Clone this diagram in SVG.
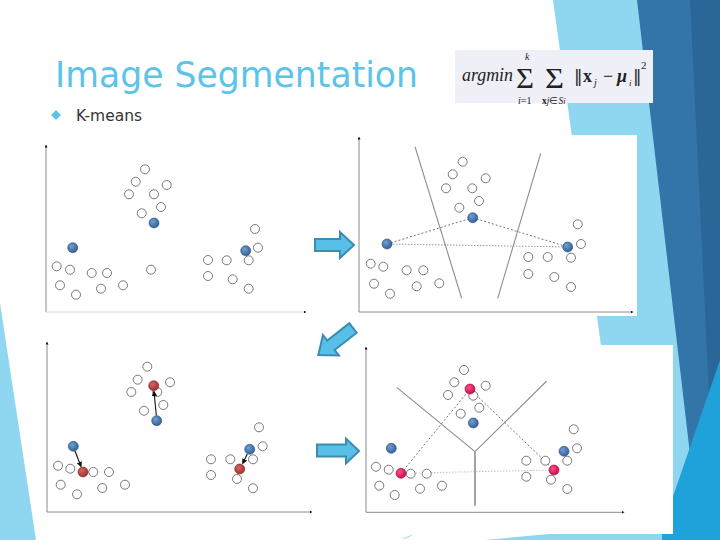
<svg xmlns="http://www.w3.org/2000/svg" width="720" height="540" viewBox="0 0 720 540">
<defs>
<radialGradient id="gb" cx="0.38" cy="0.35" r="0.7"><stop offset="0" stop-color="#6f9fd3"/><stop offset="1" stop-color="#2f5d93"/></radialGradient>
<radialGradient id="gr" cx="0.38" cy="0.35" r="0.7"><stop offset="0" stop-color="#d8645e"/><stop offset="1" stop-color="#9a2f2c"/></radialGradient>
<radialGradient id="gm" cx="0.38" cy="0.35" r="0.7"><stop offset="0" stop-color="#ff4f86"/><stop offset="1" stop-color="#c8084a"/></radialGradient>
<marker id="ah" viewBox="0 0 6 6" refX="5" refY="3" markerWidth="5" markerHeight="5" orient="auto"><path d="M0,0 L6,3 L0,6 z" fill="#111"/></marker>
<marker id="ax" viewBox="0 0 4 4" refX="2" refY="2" markerWidth="3" markerHeight="3" orient="auto"><path d="M0,0 L4,2 L0,4 z" fill="#111"/></marker>
</defs>
<style>
.o{fill:#fff;stroke:#6a6a6a;stroke-width:0.9}
.b{fill:url(#gb);stroke:#2a4f7e;stroke-width:0.6}
.r{fill:url(#gr);stroke:#7a2522;stroke-width:0.6}
.m{fill:url(#gm);stroke:#9c0638;stroke-width:0.6}
.axis{stroke:#8a8a8a;stroke-width:1;fill:none;marker-end:url(#ax)}
.vor{stroke:#8c8c8c;stroke-width:1.1;fill:none}
.dash{stroke:#777;stroke-width:1;stroke-dasharray:2 2;fill:none}
.dot{stroke:#999;stroke-width:1;stroke-dasharray:1.5 1.5;fill:none}
.mv{stroke:#111;stroke-width:1.1;fill:none;marker-end:url(#ah)}
.blk{fill:#58c0e8;stroke:#3a8db1;stroke-width:2;stroke-linejoin:miter}
.t{font-family:"Liberation Serif",serif;fill:#222}
.n{font-family:"DejaVu Serif",serif;fill:#222}
</style>

<g id="background">
<rect x="0" y="0" width="720" height="540" fill="#fff"/>
<polygon points="0,303 36,540 0,540" fill="#8fd6f1"/>
<polygon points="553,0 720,0 720,540 628,540" fill="#8fd6f1"/>
<polygon points="637,0 720,0 720,540 700,540" fill="#3475a9"/>
<polygon points="690,0 720,0 720,540 716,540" fill="#2b6699"/>
<polygon points="720,360 720,540 658,540" fill="#1fa1da"/>
<polygon points="485,540 560,533 662,533 662,540" fill="#8fd6f1"/>
<line x1="403" y1="539" x2="412" y2="535" stroke="#9fd8ee" stroke-width="1"/>
</g>

<g id="title">
<text x="55" y="87" font-family="'DejaVu Sans',sans-serif" font-size="36" fill="#5cc3e9" textLength="363" lengthAdjust="spacingAndGlyphs">Image Segmentation</text>
<polygon points="56,110 61,115 56,120 51,115" fill="#5cc3e9"/>
<text x="76" y="121" font-family="'DejaVu Sans',sans-serif" font-size="16" fill="#333" textLength="66" lengthAdjust="spacingAndGlyphs">K-means</text>
</g>

<g id="formula">
<rect x="455" y="50" width="198" height="53" fill="#eff0f7"/>
<text class="t" x="462" y="81" font-size="18" font-style="italic" textLength="51" lengthAdjust="spacingAndGlyphs">argmin</text>
<text class="t" x="516" y="88" font-size="30" textLength="18" lengthAdjust="spacingAndGlyphs">Σ</text>
<text class="t" x="525" y="59.5" font-size="10" font-style="italic">k</text>
<text class="t" x="518" y="104" font-size="10"><tspan font-style="italic">i</tspan>=1</text>
<text class="t" x="545" y="88" font-size="30" textLength="19" lengthAdjust="spacingAndGlyphs">Σ</text>
<text class="t" x="542" y="104" font-size="9.5"><tspan font-weight="bold">x</tspan><tspan font-style="italic">j</tspan>∈<tspan font-style="italic">S</tspan><tspan font-style="italic" font-size="8">i</tspan></text>
<text class="n" x="574" y="82" font-size="17">‖</text>
<text class="t" x="583" y="82" font-size="18" font-weight="bold">x</text>
<text class="t" x="594" y="86" font-size="10" font-style="italic">j</text>
<text class="t" x="603" y="82" font-size="18">−</text>
<text class="t" x="617" y="82" font-size="18" font-weight="bold" font-style="italic">μ</text>
<text class="t" x="629" y="86" font-size="9" font-style="italic">i</text>
<text class="n" x="633" y="82" font-size="17">‖</text>
<text class="t" x="641" y="69" font-size="11">2</text>
</g>

<g id="panel-initial">
<line class="axis" x1="46" y1="312" x2="46" y2="146"/>
<line class="axis" x1="46" y1="312" x2="305" y2="312" style="stroke:#d8d8d8"/>
<circle class="o" cx="145" cy="169.3" r="4.5"/><circle class="o" cx="135.7" cy="181.7" r="4.5"/>
<circle class="o" cx="166.7" cy="185" r="4.5"/><circle class="o" cx="129" cy="194.3" r="4.5"/>
<circle class="o" cx="154" cy="194.3" r="4.5"/><circle class="o" cx="161" cy="207" r="4.5"/>
<circle class="o" cx="141.7" cy="213.3" r="4.5"/><circle class="o" cx="255" cy="229" r="4.5"/>
<circle class="o" cx="258" cy="247.7" r="4.5"/><circle class="o" cx="56.7" cy="266.3" r="4.5"/>
<circle class="o" cx="70" cy="269.7" r="4.5"/><circle class="o" cx="91.7" cy="273" r="4.5"/>
<circle class="o" cx="107" cy="273" r="4.5"/><circle class="o" cx="151" cy="269.7" r="4.5"/>
<circle class="o" cx="208" cy="260" r="4.5"/><circle class="o" cx="226.7" cy="260.3" r="4.5"/>
<circle class="o" cx="248.7" cy="260.3" r="4.5"/><circle class="o" cx="208" cy="276" r="4.5"/>
<circle class="o" cx="232.7" cy="279.3" r="4.5"/><circle class="o" cx="248.7" cy="288.7" r="4.5"/>
<circle class="o" cx="60" cy="285.3" r="4.5"/><circle class="o" cx="76" cy="294.7" r="4.5"/>
<circle class="o" cx="101" cy="288.7" r="4.5"/><circle class="o" cx="123" cy="285.3" r="4.5"/>
<circle class="b" cx="154" cy="223" r="5"/><circle class="b" cx="72.7" cy="247.7" r="5"/><circle class="b" cx="245.7" cy="250.7" r="5"/>
</g>

<g id="panel-assign">
<rect x="355" y="135" width="282" height="181" fill="#fff"/>
<line class="axis" x1="359" y1="312" x2="359" y2="138"/>
<line class="axis" x1="359" y1="312" x2="632" y2="312"/>
<line class="vor" x1="415" y1="146.7" x2="461.7" y2="298.3"/>
<line class="vor" x1="540.7" y1="153.3" x2="497.7" y2="298.3"/>
<line class="dash" x1="387" y1="244" x2="472.7" y2="217.7"/>
<line class="dash" x1="472.7" y1="217.7" x2="567.7" y2="247"/>
<line class="dot" x1="387" y1="244" x2="567.7" y2="247"/>
<circle class="o" cx="462.7" cy="161.7" r="4.5"/><circle class="o" cx="452.7" cy="174.3" r="4.5"/>
<circle class="o" cx="485.7" cy="178.3" r="4.5"/><circle class="o" cx="446" cy="188.3" r="4.5"/>
<circle class="o" cx="472.3" cy="188.3" r="4.5"/><circle class="o" cx="479" cy="201" r="4.5"/>
<circle class="o" cx="459.3" cy="207.7" r="4.5"/><circle class="o" cx="577.7" cy="224.3" r="4.5"/>
<circle class="o" cx="581" cy="244" r="4.5"/><circle class="o" cx="370.7" cy="263.7" r="4.5"/>
<circle class="o" cx="383.3" cy="266.7" r="4.5"/><circle class="o" cx="406.7" cy="270.3" r="4.5"/>
<circle class="o" cx="423.3" cy="270.3" r="4.5"/><circle class="o" cx="528.3" cy="257" r="4.5"/>
<circle class="o" cx="547.7" cy="257" r="4.5"/><circle class="o" cx="571" cy="257.7" r="4.5"/>
<circle class="o" cx="528.3" cy="274" r="4.5"/><circle class="o" cx="554.3" cy="277" r="4.5"/>
<circle class="o" cx="571" cy="287" r="4.5"/><circle class="o" cx="374" cy="283.7" r="4.5"/>
<circle class="o" cx="390" cy="293.7" r="4.5"/><circle class="o" cx="416.7" cy="286.3" r="4.5"/>
<circle class="o" cx="439.3" cy="283.3" r="4.5"/>
<circle class="b" cx="472.7" cy="217.7" r="5"/><circle class="b" cx="387" cy="244" r="5"/><circle class="b" cx="567.7" cy="247" r="5"/>
</g>

<g id="panel-update">
<line class="axis" x1="47" y1="512" x2="47" y2="343"/>
<line class="axis" x1="47" y1="512" x2="311" y2="512"/>
<circle class="o" cx="147.3" cy="366.7" r="4.5"/><circle class="o" cx="137.7" cy="379.7" r="4.5"/>
<circle class="o" cx="170" cy="382.3" r="4.5"/><circle class="o" cx="131.3" cy="392" r="4.5"/>
<circle class="o" cx="157.3" cy="392" r="4.5"/><circle class="o" cx="163.3" cy="405" r="4.5"/>
<circle class="o" cx="144" cy="410.7" r="4.5"/><circle class="o" cx="259" cy="427.3" r="4.5"/>
<circle class="o" cx="262.7" cy="446.3" r="4.5"/><circle class="o" cx="58" cy="465.7" r="4.5"/>
<circle class="o" cx="70.3" cy="468.7" r="4.5"/><circle class="o" cx="93.3" cy="472" r="4.5"/>
<circle class="o" cx="109" cy="472" r="4.5"/><circle class="o" cx="211" cy="459.3" r="4.5"/>
<circle class="o" cx="230.3" cy="459.3" r="4.5"/><circle class="o" cx="253" cy="459.3" r="4.5"/>
<circle class="o" cx="211" cy="475" r="4.5"/><circle class="o" cx="237" cy="479" r="4.5"/>
<circle class="o" cx="253" cy="488.3" r="4.5"/><circle class="o" cx="60.7" cy="484.7" r="4.5"/>
<circle class="o" cx="77" cy="494.3" r="4.5"/><circle class="o" cx="102.3" cy="488" r="4.5"/>
<circle class="o" cx="125" cy="484.7" r="4.5"/>
<circle class="b" cx="156.7" cy="420.7" r="5"/><circle class="b" cx="73.3" cy="446.3" r="5"/><circle class="b" cx="249.7" cy="449.3" r="5"/>
<line class="mv" x1="156.3" y1="415.5" x2="154" y2="391.5"/>
<line class="mv" x1="75" y1="451" x2="81" y2="466.5"/>
<line class="mv" x1="247.3" y1="454" x2="242.7" y2="463.5"/>
<circle class="r" cx="153.7" cy="385.7" r="5"/><circle class="r" cx="83" cy="472" r="5"/><circle class="r" cx="239.7" cy="469" r="5"/>
</g>

<g id="panel-reassign">
<rect x="363" y="345" width="310" height="189" fill="#fff"/>
<line class="axis" x1="366" y1="512.3" x2="366" y2="348"/>
<line class="axis" x1="366" y1="512.3" x2="623" y2="512.3"/>
<line class="vor" x1="396.7" y1="387.3" x2="475" y2="451.7"/>
<line class="vor" x1="546.7" y1="381" x2="475" y2="451.7"/>
<line class="vor" x1="475" y1="451.7" x2="475" y2="505.7" style="stroke-width:1.8;stroke:#999"/>
<line class="dash" x1="401" y1="473.3" x2="470" y2="389"/>
<line class="dash" x1="470" y1="389" x2="554" y2="470"/>
<line class="dot" x1="401" y1="473.3" x2="554" y2="470" style="stroke:#c4c4c4"/>
<circle class="o" cx="464" cy="370" r="4.5"/><circle class="o" cx="454.3" cy="382.3" r="4.5"/>
<circle class="o" cx="485.7" cy="385.7" r="4.5"/><circle class="o" cx="448" cy="395" r="4.5"/>
<circle class="o" cx="473.3" cy="395.7" r="4.5"/><circle class="o" cx="479.3" cy="407.7" r="4.5"/>
<circle class="o" cx="460.7" cy="413.7" r="4.5"/><circle class="o" cx="573.7" cy="429.3" r="4.5"/>
<circle class="o" cx="577" cy="448.3" r="4.5"/><circle class="o" cx="376" cy="466.7" r="4.5"/>
<circle class="o" cx="388.7" cy="469.7" r="4.5"/><circle class="o" cx="410.7" cy="473.7" r="4.5"/>
<circle class="o" cx="426.7" cy="473.7" r="4.5"/><circle class="o" cx="526.3" cy="460.7" r="4.5"/>
<circle class="o" cx="545.3" cy="460.7" r="4.5"/><circle class="o" cx="567.3" cy="460.7" r="4.5"/>
<circle class="o" cx="526.3" cy="476.7" r="4.5"/><circle class="o" cx="551" cy="479.7" r="4.5"/>
<circle class="o" cx="567.3" cy="489" r="4.5"/><circle class="o" cx="379.3" cy="485.7" r="4.5"/>
<circle class="o" cx="394.7" cy="495" r="4.5"/><circle class="o" cx="420" cy="488.7" r="4.5"/>
<circle class="o" cx="442" cy="485.7" r="4.5"/>
<circle class="b" cx="473.3" cy="423" r="5"/><circle class="b" cx="391.3" cy="448.3" r="5"/><circle class="b" cx="564" cy="451.3" r="5"/>
<circle class="m" cx="470" cy="389" r="5"/><circle class="m" cx="401" cy="473.3" r="5"/><circle class="m" cx="554" cy="470" r="5"/>
</g>

<g id="connectors">
<polygon class="blk" points="315,239 340,239 340,232 354,245 340,258 340,251 315,251"/>
<polygon class="blk" transform="translate(353,328) rotate(142)" points="0,-6 28,-6 28,-13 44,0 28,13 28,6 0,6"/>
<polygon class="blk" points="317,444.5 346,444.5 346,438.5 359,451 346,463.5 346,456.5 317,456.5"/>
</g>
</svg>
